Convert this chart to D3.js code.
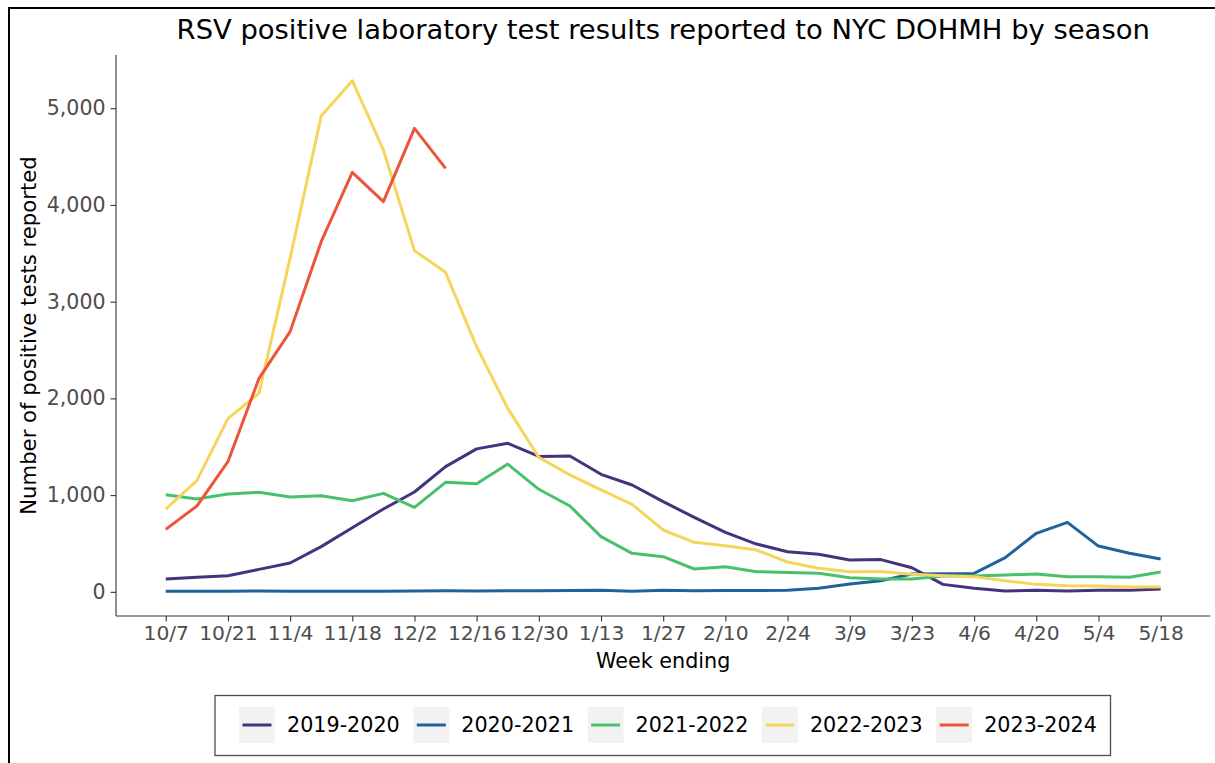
<!DOCTYPE html>
<html>
<head>
<meta charset="utf-8">
<script src="https://cdn.jsdelivr.net/npm/d3@7"></script>
<style>
  html, body { margin: 0; padding: 0; background: #fff; }
  svg { display: block; font-family: "DejaVu Sans", sans-serif; }
</style>
</head>
<body>
<svg id="chart" width="1215" height="763"></svg>
<script>
// ---- data ----
const weeks = ["10/7","10/14","10/21","10/28","11/4","11/11","11/18","11/25","12/2","12/9","12/16","12/23","12/30","1/6","1/13","1/20","1/27","2/3","2/10","2/17","2/24","3/2","3/9","3/16","3/23","3/30","4/6","4/13","4/20","4/27","5/4","5/11","5/18"];
const tickLabels = ["10/7","10/21","11/4","11/18","12/2","12/16","12/30","1/13","1/27","2/10","2/24","3/9","3/23","4/6","4/20","5/4","5/18"];
const seasons = ["2019-2020","2020-2021","2021-2022","2022-2023","2023-2024"];
const colors = ["#45337D","#20639B","#48C16E","#F6D55C","#ED553B"];
const s2019 = [132,150,167,232,298,467,663,856,1032,1294,1478,1535,1400,1405,1215,1104,932,770,615,494,415,388,330,333,249,77,36,8,15,8,15,16,29];
const s2020 = [5,6,5,8,6,7,5,6,9,10,9,10,12,14,16,5,15,12,14,13,16,36,80,115,184,188,190,353,605,718,473,398,339];
const s2021 = [1004,959,1011,1029,980,994,942,1018,873,1132,1118,1321,1060,887,570,398,363,236,260,208,201,191,146,132,132,163,163,174,184,157,156,150,205];
const s2022 = [856,1149,1790,2052,3450,4919,5284,4568,3527,3303,2534,1897,1390,1208,1053,905,639,512,477,432,308,243,208,210,181,167,157,115,77,63,60,50,50];
const s2023 = [646,887,1345,2207,2690,3620,4337,4034,4792,4378];
const yTicks = [0,1000,2000,3000,4000,5000];

const seriesValues = [s2019, s2020, s2021, s2022, s2023];

// ---- layout ----
const svg = d3.select("#chart");
const panel = {left: 116, right: 1210.4, top: 55, bottom: 616};

// outer plot border
svg.append("rect")
  .attr("x", 9).attr("y", 8).attr("width", 1300).attr("height", 900)
  .attr("fill", "none").attr("stroke", "#000").attr("stroke-width", 2);

const n = weeks.length;
const x = d3.scaleLinear().domain([-0.05*(n-1), (n-1)*1.05]).range([panel.left, panel.right]);
const y = d3.scaleLinear().domain([-250, 5550]).range([panel.bottom, panel.top]);

// title
svg.append("text")
  .attr("x", (panel.left + panel.right)/2).attr("y", 39)
  .attr("text-anchor", "middle").attr("font-size", 27.4).attr("fill", "#000")
  .text("RSV positive laboratory test results reported to NYC DOHMH by season");

// y axis
const yAxis = d3.axisLeft(y).tickValues(yTicks).tickFormat(d3.format(",")).tickSize(5.5).tickPadding(5);
const gy = svg.append("g").attr("transform", `translate(${panel.left},0)`).call(yAxis);
gy.select(".domain").attr("d", `M0,${panel.top}V${panel.bottom}`).attr("stroke", "#333").attr("stroke-width", 1.1);
gy.selectAll(".tick line").attr("stroke", "#333").attr("stroke-width", 1.1);
gy.selectAll(".tick text").attr("font-size", 20.5).attr("fill", "#4D4D4D").attr("font-family", "DejaVu Sans");

// x axis
const tickIdx = tickLabels.map(l => weeks.indexOf(l));
const xAxis = d3.axisBottom(x).tickValues(tickIdx).tickFormat(i => weeks[i]).tickSize(5.5).tickPadding(4);
const gx = svg.append("g").attr("transform", `translate(0,${panel.bottom})`).call(xAxis);
gx.select(".domain").attr("d", `M${panel.left},0H${panel.right}`).attr("stroke", "#333").attr("stroke-width", 1.1);
gx.selectAll(".tick line").attr("stroke", "#333").attr("stroke-width", 1.1);
gx.selectAll(".tick text").attr("font-size", 20.3).attr("fill", "#4D4D4D").attr("font-family", "DejaVu Sans");

// axis titles
svg.append("text")
  .attr("x", (panel.left + panel.right)/2).attr("y", 668)
  .attr("text-anchor", "middle").attr("font-size", 20.7).attr("fill", "#000")
  .text("Week ending");
svg.append("text")
  .attr("transform", `translate(36,${(panel.top + panel.bottom)/2}) rotate(-90)`)
  .attr("text-anchor", "middle").attr("font-size", 21.2).attr("fill", "#000")
  .text("Number of positive tests reported");

// lines
const line = d3.line().x((d, i) => x(i)).y(d => y(d));
seriesValues.forEach((vals, k) => {
  svg.append("path")
    .datum(vals)
    .attr("d", line)
    .attr("fill", "none")
    .attr("stroke", colors[k])
    .attr("stroke-width", 3)
    .attr("stroke-linejoin", "round");
});

// legend
const lg = svg.append("g");
lg.append("rect").attr("x", 215).attr("y", 695.5).attr("width", 895.5).attr("height", 60)
  .attr("fill", "#fff").attr("stroke", "#4D4D4D").attr("stroke-width", 1.3);
seasons.forEach((s, k) => {
  const kx = 239 + k * 174.3;
  lg.append("rect").attr("x", kx).attr("y", 707).attr("width", 36).attr("height", 36).attr("fill", "#F2F2F2");
  lg.append("line").attr("x1", kx + 3.5).attr("x2", kx + 32.5).attr("y1", 725).attr("y2", 725)
    .attr("stroke", colors[k]).attr("stroke-width", 3);
  lg.append("text").attr("x", kx + 48).attr("y", 732).attr("font-size", 20.7).attr("fill", "#000").text(s);
});
</script>
</body>
</html>
